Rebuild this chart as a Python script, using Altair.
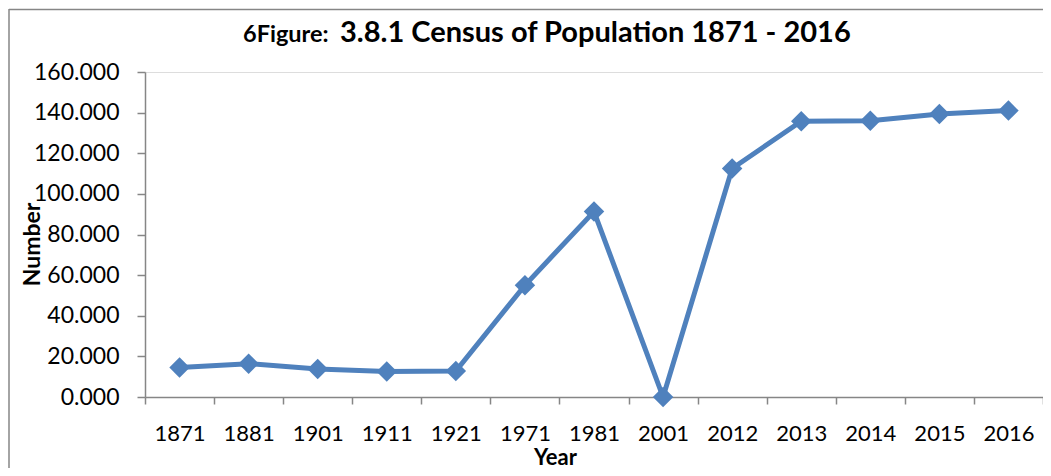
import altair as alt
import pandas as pd

# ---- data ----
years = ["1871", "1881", "1901", "1911", "1921", "1971", "1981",
         "2001", "2012", "2013", "2014", "2015", "2016"]
population = [14.5, 16.4, 13.8, 12.5, 12.8, 55.0, 91.3,
              0.0, 112.5, 135.8, 136.0, 139.3, 141.0]
y_ticks = [0, 20, 40, 60, 80, 100, 120, 140, 160]

title_small = "6Figure:"
title_big = "3.8.1 Census of Population 1871 - 2016"
x_title = "Year"
y_title = "Number"

df = pd.DataFrame({"Year": years, "Number": population})

FONT = "Lato"
BLUE = "#4F81BD"
GRAY = "#868686"

W, H = 898, 325

xscale = alt.Scale(type="band", domain=years, paddingInner=0, paddingOuter=0)
yscale = alt.Scale(domain=[0, 160], nice=False, zero=True)

x_enc = alt.X(
    "Year:N", scale=xscale, sort=years,
    axis=alt.Axis(
        title=x_title, labelAngle=0, tickBand="extent", ticks=True, tickSize=7,
        tickColor=GRAY, tickWidth=1.5, domainColor=GRAY, domainWidth=1.5,
        labelFont=FONT, labelFontSize=22, labelColor="black", labelPadding=19,
        titleFont=FONT, titleFontSize=22, titleFontWeight="bold", titleColor="black",
        titleX=410, titleY=67, titleBaseline="alphabetic", titleAlign="center",
        grid=False,
    ),
)
y_enc = alt.Y(
    "Number:Q", scale=yscale,
    axis=alt.Axis(
        title=y_title, values=y_ticks, format=".3f", grid=False,
        tickSize=8, tickColor=GRAY, tickWidth=1.5, domainColor=GRAY, domainWidth=1.5,
        labelFont=FONT, labelFontSize=23, labelColor="black", labelPadding=18,
        titleFont=FONT, titleFontSize=23, titleFontWeight="bold", titleColor="black",
        titleX=-106, titleY=172, titleAngle=-90, titleBaseline="alphabetic",
        titleAlign="center",
    ),
)

base = alt.Chart(df)
line = base.mark_line(color=BLUE, strokeWidth=5).encode(x=x_enc, y=y_enc)
pts = base.mark_point(shape="diamond", filled=True, size=420, color=BLUE,
                      opacity=1).encode(x=x_enc, y=y_enc)

tdf = pd.DataFrame({"small": [title_small], "big": [title_big]})
t_small = alt.Chart(tdf).mark_text(
    font=FONT, fontSize=23.5, fontWeight="bold", align="left",
    baseline="alphabetic", color="black",
).encode(text="small:N", x=alt.value(98), y=alt.value(-30))
t_big = alt.Chart(tdf).mark_text(
    font=FONT, fontSize=29, fontWeight="bold", align="left",
    baseline="alphabetic", color="black",
).encode(text="big:N", x=alt.value(195), y=alt.value(-30))

border_top = alt.Chart(tdf).mark_rule(color=GRAY, strokeWidth=1.5).encode(
    x=alt.value(-136), x2=alt.value(W + 5), y=alt.value(-62.5))
border_left = alt.Chart(tdf).mark_rule(color=GRAY, strokeWidth=1.5).encode(
    x=alt.value(-136), y=alt.value(-63), y2=alt.value(H + 80))

chart = alt.layer(border_top, border_left, line, pts, t_small, t_big).properties(
    width=W, height=H,
    autosize=alt.AutoSizeParams(type="none"),
    padding={"left": 137, "top": 64, "right": 0, "bottom": 71},
).configure_view(stroke=None).configure(background="white")

chart.save("out.html", embed_options={"renderer": "svg", "actions": False})
